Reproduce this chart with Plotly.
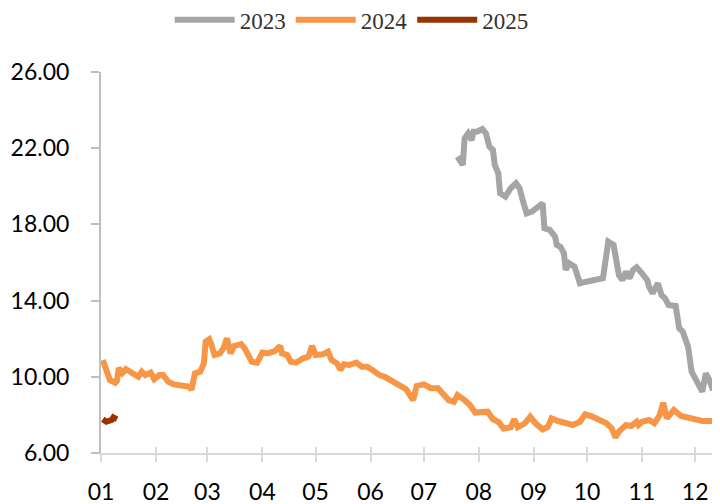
import pandas as pd
import plotly.graph_objects as go

# Day-of-year offsets (from Jan 1) and values
days_2024 = [1, 3, 5, 8, 9, 10, 12, 14, 17, 21, 23, 25, 28, 30, 33, 35, 38, 41, 50, 51, 53, 56, 58, 59,
             61, 62, 64, 67, 69, 71, 73, 75, 79, 81, 85, 88, 91, 94, 98, 101, 102, 105, 107, 110, 114,
             117, 119, 121, 125, 128, 130, 133, 135, 137, 140, 144, 147, 150, 153, 157, 160, 163, 166,
             169, 172, 176, 178, 182, 186, 190, 193, 196, 199, 201, 205, 208, 211, 215, 218, 221, 224,
             227, 231, 233, 235, 239, 242, 245, 249, 252, 254, 257, 262, 266, 270, 273, 277, 281, 285,
             288, 290, 292, 296, 299, 302, 303, 305, 309, 312, 315, 317, 319, 323, 327, 332, 339, 345,
             348, 351]
vals_2024 = [10.88, 10.44, 9.83, 9.69, 9.80, 10.46, 10.20, 10.40, 10.22, 10.00, 10.27, 10.09, 10.22,
             9.87, 10.09, 10.09, 9.74, 9.60, 9.48, 9.31, 10.18, 10.27, 10.71, 11.84, 11.97, 11.76,
             11.14, 11.23, 11.49, 12.02, 11.23, 11.62, 11.72, 11.49, 10.79, 10.74, 11.27, 11.23, 11.35,
             11.62, 11.23, 11.14, 10.79, 10.74, 10.97, 11.06, 11.62, 11.14, 11.18, 11.32, 10.88, 10.71,
             10.36, 10.66, 10.62, 10.74, 10.53, 10.53, 10.36, 10.09, 10.00, 9.83, 9.74, 9.48, 9.35,
             8.78, 9.52, 9.60, 9.40, 9.40, 9.13, 8.78, 8.69, 9.04, 8.78, 8.52, 8.12, 8.12, 8.17, 7.77,
             7.64, 7.29, 7.35, 7.77, 7.35, 7.56, 7.90, 7.56, 7.24, 7.38, 7.82, 7.70, 7.56, 7.47, 7.64,
             8.03, 7.91, 7.73, 7.56, 7.29, 6.82, 7.12, 7.47, 7.42, 7.64, 7.47, 7.64, 7.73, 7.56, 7.99,
             8.64, 7.82, 8.26, 7.94, 7.82, 7.68, 7.68, 7.50, 7.50]

days_2023 = [201, 203, 204, 205, 207, 209, 210, 212, 215, 217, 219, 221, 222, 224, 225, 228, 231, 234,
             236, 238, 240, 243, 246, 249, 250, 253, 256, 257, 259, 261, 262, 264, 267, 270, 271, 283,
             286, 287, 289, 292, 294, 296, 298, 300, 302, 305, 308, 309, 311, 314, 316, 318, 320, 324,
             326, 328, 331, 333, 336, 339, 341, 343, 345, 347, 349]
vals_2023 = [21.56, 21.29, 21.12, 22.52, 22.78, 22.43, 22.87, 22.87, 23.01, 22.78, 22.08, 21.91, 21.12,
             20.68, 19.63, 19.46, 19.90, 20.16, 19.90, 19.19, 18.58, 18.67, 18.93, 19.11, 17.80, 17.71,
             17.36, 16.92, 16.83, 16.48, 15.61, 15.96, 15.78, 14.91, 14.94, 15.17, 17.09, 17.01, 16.92,
             15.34, 15.08, 15.52, 15.17, 15.61, 15.75, 15.43, 15.08, 14.73, 14.38, 14.91, 14.29, 14.12,
             13.77, 13.72, 12.55, 12.37, 11.58, 10.27, 9.66, 9.22, 10.18, 9.83, 9.31, 10.36, 10.53]

days_2025 = [1, 3, 6, 7, 9]
vals_2025 = [7.77, 7.64, 7.73, 7.87, 7.77]

series_names = ["2023", "2024", "2025"]
month_labels = ["01", "02", "03", "04", "05", "06", "07", "08", "09", "10", "11", "12"]
y_ticks = [6, 10, 14, 18, 22, 26]

base = pd.Timestamp("2024-01-01")
def to_dates(days):
    return [base + pd.Timedelta(days=d) for d in days]

colors = {"2023": "#A5A5A5", "2024": "#F79646", "2025": "#993300"}
data = {"2023": (days_2023, vals_2023), "2024": (days_2024, vals_2024), "2025": (days_2025, vals_2025)}

fig = go.Figure()
for name in series_names:
    d, v = data[name]
    fig.add_trace(go.Scatter(x=to_dates(d), y=v, mode="lines", name=name,
                             line=dict(color=colors[name], width=6, shape="linear")))

month_ticks = [pd.Timestamp(f"2024-{m}-01") for m in month_labels]
x_range = [base, base + pd.Timedelta(days=349)]

# The page body has an 8px margin, so the figure is 712x496 and placed at (8, 8)
fig.update_layout(
    width=712, height=496,
    margin=dict(l=93, r=0, t=64, b=51, autoexpand=False),
    plot_bgcolor="white", paper_bgcolor="white",
    font=dict(family="Lato, 'Open Sans', sans-serif", size=23, color="#000000"),
    showlegend=True,
    legend=dict(orientation="h", x=0.405, xanchor="center", xref="paper",
                y=1.137, yanchor="middle", yref="paper",
                font=dict(family="Liberation Serif, serif", size=23, color="#333333"),
                itemwidth=60, tracegroupgap=0, bgcolor="rgba(0,0,0,0)"),
    xaxis=dict(type="date", range=x_range, tickvals=month_ticks, ticktext=month_labels,
               automargin=False,
               showgrid=False, zeroline=False, showline=True, linecolor="#D9D9D9", linewidth=2,
               ticks="outside", ticklen=7, tickwidth=2, tickcolor="#D9D9D9", ticklabelstandoff=10),
    xaxis2=dict(type="date", range=x_range, tickvals=month_ticks, overlaying="x", side="bottom",
                anchor="y", showticklabels=False, showgrid=False, zeroline=False, showline=False,
                automargin=False,
                ticks="inside", ticklen=6, tickwidth=2, tickcolor="#D9D9D9"),
    yaxis=dict(range=[6, 26], tickvals=y_ticks, ticktext=[f"{t:.2f}" for t in y_ticks],
               automargin=False,
               showgrid=False, zeroline=False, showline=True, linecolor="#BFBFBF", linewidth=2,
               ticks="outside", ticklen=8, tickwidth=2, tickcolor="#BFBFBF", ticklabelstandoff=17),
)
fig.add_trace(go.Scatter(x=[base], y=[None], xaxis="x2", showlegend=False, hoverinfo="skip"))

fig.write_html("out.html")
